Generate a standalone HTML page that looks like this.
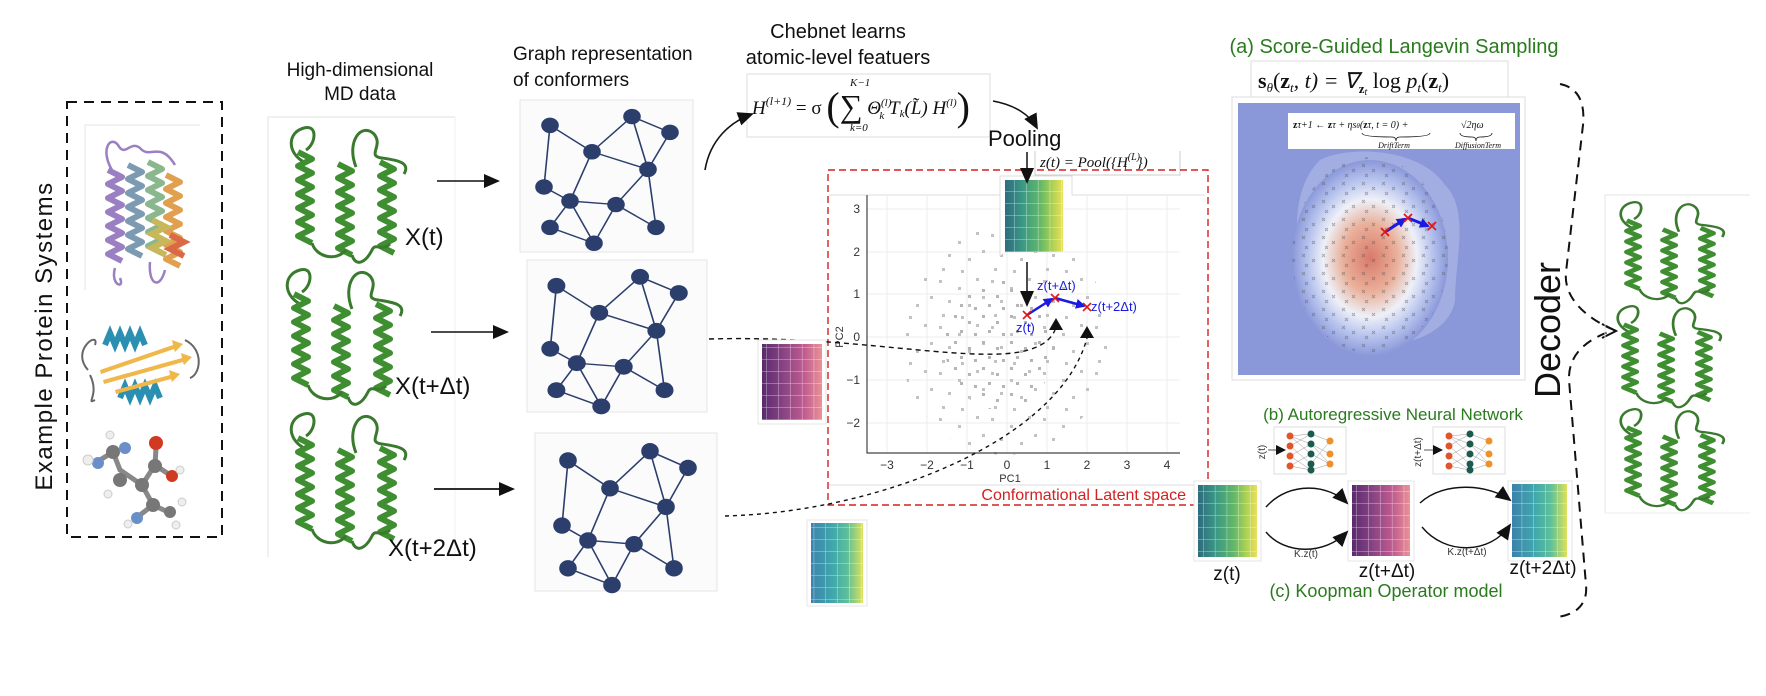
<!DOCTYPE html>
<html><head><meta charset="utf-8"><style>
html,body{margin:0;padding:0;background:#fff;}
svg{display:block;font-family:"Liberation Sans",sans-serif;}
.ser{font-family:"Liberation Serif",serif;font-style:italic;}
</style></head><body>
<svg width="1766" height="696" viewBox="0 0 1766 696" xmlns="http://www.w3.org/2000/svg">
<defs>
  <path id="hx" fill="none" stroke-width="6" stroke-linejoin="round" d="M0,0 l14,7 l-14,7 l14,7 l-14,7 l14,7 l-14,7 l14,7 l-14,7 l14,7 l-14,7 l14,7 l-14,7 l14,7"/>
  <g id="prot">
    <path d="M18,40 C0,30 2,10 18,6 C32,2 30,22 20,28 M70,45 C60,20 75,0 88,12 C98,24 80,34 96,36 C110,38 125,40 118,52" fill="none" stroke="#3a7a2e" stroke-width="3"/>
    <use href="#hx" x="12" y="30" stroke="#3f8f32"/>
    <use href="#hx" x="52" y="42" stroke="#3f8f32"/>
    <use href="#hx" x="94" y="40" stroke="#3f8f32"/>
    <path d="M26,121 C30,135 50,140 60,128 M66,133 C70,146 80,140 86,128 C90,120 95,130 104,122" fill="none" stroke="#3a7a2e" stroke-width="3"/>
  </g>
  <g id="graph" stroke="#2c3e6b" stroke-width="1.6" fill="#2c3e6b">
    <path fill="none" d="M20,22 L62,52 L102,12 L140,30 L118,72 L62,52 L40,108 L14,92 L20,22 M118,72 L86,112 L40,108 L20,138 L64,156 L86,112 L126,138 L118,72 M40,108 L64,156 M102,12 L118,72"/>
    <circle cx="20" cy="22" r="8"/><circle cx="102" cy="12" r="8"/><circle cx="62" cy="52" r="8"/><circle cx="140" cy="30" r="8"/><circle cx="118" cy="72" r="8"/><circle cx="14" cy="92" r="8"/><circle cx="40" cy="108" r="8"/><circle cx="86" cy="112" r="8"/><circle cx="126" cy="138" r="8"/><circle cx="20" cy="138" r="8"/><circle cx="64" cy="156" r="8"/>
  </g>
  <linearGradient id="gv" x1="0" x2="1"><stop offset="0" stop-color="#2e6b7e"/><stop offset=".3" stop-color="#3a9885"/><stop offset=".6" stop-color="#62b66a"/><stop offset=".8" stop-color="#a6cf55"/><stop offset="1" stop-color="#ece05a"/></linearGradient>
  <linearGradient id="gp" x1="0" x2="1"><stop offset="0" stop-color="#5a2a6e"/><stop offset=".35" stop-color="#874383"/><stop offset=".7" stop-color="#bf5b8f"/><stop offset="1" stop-color="#ea9296"/></linearGradient>
  <linearGradient id="gt" x1="0" x2="1"><stop offset="0" stop-color="#3c82ab"/><stop offset=".4" stop-color="#3fa6ad"/><stop offset=".7" stop-color="#5dbf9a"/><stop offset="1" stop-color="#dde15a"/></linearGradient>
  <pattern id="grid" width="11.8" height="12" patternUnits="userSpaceOnUse"><path d="M11.8,0 V12 M0,12 H11.8" stroke="#fff" stroke-width="1" stroke-opacity=".6" fill="none"/></pattern>
  <radialGradient id="blob" cx=".5" cy=".5" r=".5"><stop offset="0" stop-color="#d97a6a"/><stop offset=".35" stop-color="#eab09a"/><stop offset=".6" stop-color="#eef0f8"/><stop offset=".8" stop-color="#b8c4ee"/><stop offset="1" stop-color="#8a98da"/></radialGradient>
  <pattern id="dots" width="52" height="46" patternUnits="userSpaceOnUse"><g fill="#c2c2c2"><rect x="3" y="4" width="3" height="3"/><rect x="22" y="11" width="3" height="3"/><rect x="40" y="2" width="3" height="3"/><rect x="12" y="24" width="3" height="3"/><rect x="32" y="28" width="3" height="3"/><rect x="46" y="20" width="3" height="3"/><rect x="6" y="38" width="3" height="3"/><rect x="25" y="40" width="3" height="3"/></g></pattern>
  <pattern id="dotsd" width="28" height="26" patternUnits="userSpaceOnUse"><g fill="#b5b5b5"><rect x="2" y="3" width="3" height="3"/><rect x="16" y="9" width="3" height="3"/><rect x="8" y="18" width="3" height="3"/><rect x="22" y="21" width="3" height="3"/></g></pattern>
  <pattern id="crs" width="20" height="18" patternUnits="userSpaceOnUse"><g stroke="#555" stroke-width="1"><path d="M2,2 l3,3 m0,-3 l-3,3 M12,7 l3,3 m0,-3 l-3,3 M5,12 l3,3 m0,-3 l-3,3"/></g></pattern>
  <marker id="ah" markerWidth="10" markerHeight="10" refX="8" refY="5" orient="auto" markerUnits="userSpaceOnUse"><path d="M0,0 L10,5 L0,10 z" fill="#111"/></marker>
  <marker id="ahb" markerWidth="16" markerHeight="14" refX="14" refY="7" orient="auto" markerUnits="userSpaceOnUse"><path d="M0,0 L16,7 L0,14 z" fill="#111"/></marker>
  <marker id="ahblue" markerWidth="10" markerHeight="10" refX="8" refY="5" orient="auto" markerUnits="userSpaceOnUse"><path d="M0,0 L10,5 L0,10 z" fill="#1a1ae0"/></marker>
</defs>

<!-- Left panel -->
<text transform="translate(52,336) rotate(-90)" text-anchor="middle" font-size="24" letter-spacing="1.5" fill="#111">Example Protein Systems</text>
<rect x="67" y="102" width="155" height="435" fill="none" stroke="#111" stroke-width="2" stroke-dasharray="10,7"/>
<path d="M85,290 V125 H200" fill="none" stroke="#e4e4e4"/>
<use href="#hx" x="108" y="170" stroke="#9a80c2"/>
<use href="#hx" x="128" y="165" stroke="#7c9bb2"/>
<use href="#hx" x="148" y="162" stroke="#8ab78e"/>
<use href="#hx" x="166" y="175" stroke="#e0a050"/>
<path d="M112,170 C100,150 110,135 118,145 C125,158 130,140 140,148 C150,160 160,140 175,165 M115,268 C110,285 125,290 120,278 M150,262 C148,285 160,290 165,270" fill="none" stroke="#9a80c2" stroke-width="2.5"/>
<path d="M152,220 l14,7 l-14,7 l14,7 l-14,7 l14,7" fill="none" stroke="#c8b85a" stroke-width="6"/>
<path d="M170,235 l14,7 l-14,7 l14,7" fill="none" stroke="#d96a45" stroke-width="6"/>
<path d="M88,370 C70,350 100,330 95,345 M90,375 C100,395 85,405 95,400 M185,340 C205,350 200,375 190,378" fill="none" stroke="#666" stroke-width="2"/>
<path d="M105,345 l5,-12 l5,12 l5,-12 l5,12 l5,-12 l5,12 l5,-12 l5,12" fill="none" stroke="#2a8fb0" stroke-width="6"/>
<path d="M120,398 l5,-12 l5,12 l5,-12 l5,12 l5,-12 l5,12 l5,-12 l5,12" fill="none" stroke="#2a8fb0" stroke-width="6"/>
<path d="M100,370 L173,345 L172,340 L183,344 L175,352 L174,349 L101,374 z" fill="#f0b84a"/>
<path d="M103,380 L182,358 L181,353 L192,357 L184,365 L183,362 L104,384 z" fill="#f0b84a"/>
<path d="M115,390 L170,375 L169,370 L180,374 L172,382 L171,379 L116,394 z" fill="#f0b84a"/>
<path d="M100,460 L113,452 L120,470 L142,485 L155,465 L170,475 M142,485 L153,505 L168,512 M153,505 L140,515 M155,465 L156,448" stroke="#888" stroke-width="5" fill="none"/>
<circle cx="113" cy="452" r="7" fill="#777"/><circle cx="125" cy="448" r="6" fill="#6a8fc8"/><circle cx="98" cy="463" r="6" fill="#6a8fc8"/><circle cx="88" cy="460" r="5" fill="#eee" stroke="#ccc"/><circle cx="120" cy="480" r="7" fill="#777"/><circle cx="142" cy="485" r="7" fill="#777"/><circle cx="155" cy="466" r="7" fill="#777"/><circle cx="156" cy="443" r="7" fill="#d03a22"/><circle cx="172" cy="476" r="6" fill="#d03a22"/><circle cx="180" cy="470" r="4" fill="#eee" stroke="#ccc"/><circle cx="153" cy="505" r="7" fill="#777"/><circle cx="170" cy="512" r="6" fill="#777"/><circle cx="137" cy="518" r="6" fill="#6a8fc8"/><circle cx="128" cy="524" r="4" fill="#eee" stroke="#ccc"/><circle cx="108" cy="494" r="4" fill="#eee" stroke="#ccc"/><circle cx="110" cy="435" r="4" fill="#eee" stroke="#ccc"/><circle cx="176" cy="525" r="4" fill="#eee" stroke="#ccc"/><circle cx="182" cy="502" r="4" fill="#eee" stroke="#ccc"/>

<!-- MD data -->
<text x="360" y="76" text-anchor="middle" font-size="19" fill="#111">High-dimensional</text>
<text x="360" y="100" text-anchor="middle" font-size="19" fill="#111">MD data</text>
<path d="M268,557 V117 H455" fill="none" stroke="#e2e2e2"/><path d="M455,117 V557" stroke="#f0f0f0"/>
<use href="#prot" x="286" y="122"/>
<use href="#prot" x="282" y="264"/>
<use href="#prot" x="286" y="408"/>
<text x="405" y="245" font-size="24" fill="#111">X(t)</text>
<text x="395" y="394" font-size="24" fill="#111">X(t+Δt)</text>
<text x="388" y="556" font-size="24" fill="#111">X(t+2Δt)</text>
<line x1="437" y1="181" x2="498" y2="181" stroke="#111" stroke-width="1.6" marker-end="url(#ahb)"/>
<line x1="431" y1="332" x2="507" y2="332" stroke="#111" stroke-width="1.6" marker-end="url(#ahb)"/>
<line x1="434" y1="489" x2="513" y2="489" stroke="#111" stroke-width="1.8" marker-end="url(#ahb)"/>

<!-- Graphs -->
<text x="513" y="60" font-size="19" fill="#111">Graph representation</text>
<text x="513" y="86" font-size="19" fill="#111">of conformers</text>
<rect x="520" y="100" width="173" height="152" fill="#fbfbfc" stroke="#e4e4e4"/>
<g transform="translate(530,106) scale(1,0.88)"><use href="#graph"/></g>
<rect x="527" y="260" width="180" height="152" fill="#fbfbfc" stroke="#e4e4e4"/>
<g transform="translate(536,266) scale(1.02,0.9)"><use href="#graph"/></g>
<rect x="535" y="433" width="182" height="158" fill="#fbfbfc" stroke="#e4e4e4"/>
<g transform="translate(548,440) scale(1.0,0.93)"><use href="#graph"/></g>

<!-- Chebnet -->
<text x="838" y="38" text-anchor="middle" font-size="20" fill="#111">Chebnet learns</text>
<text x="838" y="64" text-anchor="middle" font-size="20" fill="#111">atomic-level featuers</text>
<rect x="747" y="74" width="243" height="63" fill="#fff" stroke="#ddd"/>
<text x="752" y="114" class="ser" font-size="19" fill="#111">H<tspan font-size="12" dy="-9">(l+1)</tspan><tspan dy="9" font-style="normal"> = σ </tspan><tspan font-size="40" font-style="normal" dy="6">(</tspan><tspan font-size="32" font-style="normal" dy="-3">∑</tspan><tspan dy="-3"> Θ</tspan><tspan font-size="11" dy="-8">(l)</tspan><tspan font-size="11" dx="-12" dy="13">k</tspan><tspan dy="-5"> T</tspan><tspan font-size="11" dy="3">k</tspan><tspan dy="-3">(L̃) H</tspan><tspan font-size="11" dy="-8">(l)</tspan><tspan font-size="40" font-style="normal" dy="14">)</tspan></text>
<text x="850" y="86" class="ser" font-size="11" fill="#111">K−1</text>
<text x="850" y="131" class="ser" font-size="11" fill="#111">k=0</text>
<path d="M705,170 C710,140 730,122 752,114" fill="none" stroke="#111" stroke-width="1.6" marker-end="url(#ahb)"/>
<path d="M993,101 C1015,105 1030,115 1037,128" fill="none" stroke="#111" stroke-width="1.6" marker-end="url(#ahb)"/>
<text x="988" y="146" font-size="22" fill="#111">Pooling</text>
<path d="M1035,151 V175 H1180 V151" fill="#fff" stroke="#ccc"/>
<text x="1040" y="167" class="ser" font-size="15" fill="#111">z(t) = Pool({H<tspan font-size="10" dy="-7">(L)</tspan><tspan font-size="10" dx="-16" dy="11">i</tspan><tspan dx="10" dy="-4">})</tspan></text>

<!-- Latent space -->
<rect x="828" y="170" width="380" height="335" fill="none" stroke="#d42020" stroke-width="1.4" stroke-dasharray="7,4"/>
<path d="M829,195 H1205 M829,485 H1205" stroke="#ddd"/>
<g stroke="#ececec" stroke-width="1">
  <path d="M887,195 V453 M927,195 V453 M967,195 V453 M1007,195 V453 M1047,195 V453 M1087,195 V453 M1127,195 V453 M1167,195 V453"/>
  <path d="M867,209 H1180 M867,252 H1180 M867,294 H1180 M867,337 H1180 M867,380 H1180 M867,423 H1180"/>
</g>
<clipPath id="sc"><ellipse cx="1005" cy="340" rx="105" ry="115"/></clipPath>
<rect x="880" y="200" width="260" height="260" fill="url(#dots)" clip-path="url(#sc)"/>
<clipPath id="sc2"><ellipse cx="1000" cy="345" rx="55" ry="65"/></clipPath>
<rect x="930" y="270" width="150" height="150" fill="url(#dotsd)" clip-path="url(#sc2)"/>
<path d="M867,195 V453 H1180" fill="none" stroke="#444" stroke-width="1.2"/>
<g font-size="12" fill="#333" text-anchor="end">
  <text x="860" y="213">3</text><text x="860" y="256">2</text><text x="860" y="298">1</text><text x="860" y="341">0</text><text x="860" y="384">−1</text><text x="860" y="427">−2</text>
</g>
<g font-size="12" fill="#333" text-anchor="middle">
  <text x="887" y="469">−3</text><text x="927" y="469">−2</text><text x="967" y="469">−1</text><text x="1007" y="469">0</text><text x="1047" y="469">1</text><text x="1087" y="469">2</text><text x="1127" y="469">3</text><text x="1167" y="469">4</text>
</g>
<text x="1010" y="482" font-size="11" fill="#333" text-anchor="middle">PC1</text>
<text transform="translate(843,337) rotate(-90)" font-size="11" fill="#333" text-anchor="middle">PC2</text>
<path d="M1000,256 V176 H1072 V195" fill="#fff" stroke="#ddd"/>
<rect x="1005" y="180" width="58" height="72" fill="url(#gv)"/><rect x="1005" y="180" width="58" height="72" fill="url(#grid)"/>
<line x1="1027" y1="152" x2="1027" y2="182" stroke="#111" stroke-width="1.5" marker-end="url(#ahb)"/>
<line x1="1027" y1="262" x2="1027" y2="305" stroke="#111" stroke-width="1.5" marker-end="url(#ahb)"/>
<path d="M1027,315 L1052,299" stroke="#1a1ae0" stroke-width="2.5" marker-end="url(#ahblue)"/>
<path d="M1055,298 L1084,306" stroke="#1a1ae0" stroke-width="2.5" marker-end="url(#ahblue)"/>
<g stroke="#e01818" stroke-width="1.6"><path d="M1023,311 l8,8 m0,-8 l-8,8 M1051,294 l8,8 m0,-8 l-8,8 M1083,303 l8,8 m0,-8 l-8,8"/></g>
<g font-size="13" fill="#1a1ae0"><text x="1016" y="332">z(t)</text><text x="1037" y="290">z(t+Δt)</text><text x="1091" y="311">z(t+2Δt)</text></g>
<path d="M1049,330 L1056,318 L1063,330 z M1080,338 L1087,326 L1094,338 z" fill="#111"/>
<path d="M709,339 C850,335 960,362 1020,352 C1045,347 1052,337 1055,330" fill="none" stroke="#111" stroke-width="1.4" stroke-dasharray="5,4"/>
<path d="M725,516 C880,512 1060,440 1087,338" fill="none" stroke="#111" stroke-width="1.4" stroke-dasharray="4,4"/>
<text x="1186" y="500" text-anchor="end" font-size="16" fill="#d42020">Conformational Latent space</text>
<rect x="758" y="340" width="68" height="84" fill="#fff" stroke="#e4e4e4"/>
<rect x="762" y="344" width="60" height="76" fill="url(#gp)"/><rect x="762" y="344" width="60" height="76" fill="url(#grid)"/>
<rect x="807" y="520" width="60" height="86" fill="#fff" stroke="#e4e4e4"/>
<rect x="811" y="523" width="52" height="80" fill="url(#gt)"/><rect x="811" y="523" width="52" height="80" fill="url(#grid)"/>

<!-- (a) Langevin -->
<text x="1394" y="53" text-anchor="middle" font-size="20" fill="#2a7a1e">(a) Score-Guided Langevin Sampling</text>
<path d="M1251,97 V61 H1508 V97" fill="#fff" stroke="#ddd"/>
<text x="1258" y="88" class="ser" font-size="22" fill="#111"><tspan font-style="normal" font-weight="bold">s</tspan><tspan font-size="13" dy="4">θ</tspan><tspan dy="-4" font-style="normal">(</tspan><tspan font-style="normal" font-weight="bold">z</tspan><tspan font-size="13" dy="4">t</tspan><tspan dy="-4">, t) = ∇</tspan><tspan font-size="13" dy="5" font-weight="bold" font-style="normal">z</tspan><tspan font-size="10" dy="2">t</tspan><tspan dy="-7" font-style="normal"> log </tspan>p<tspan font-size="13" dy="4">t</tspan><tspan dy="-4" font-style="normal">(</tspan><tspan font-style="normal" font-weight="bold">z</tspan><tspan font-size="13" dy="4">t</tspan><tspan dy="-4" font-style="normal">)</tspan></text>
<rect x="1232" y="97" width="293" height="283" fill="#fff" stroke="#ddd"/>
<rect x="1238" y="103" width="282" height="272" fill="#8a98da"/>
<path d="M1320,160 C1350,145 1420,148 1445,185 C1470,210 1455,260 1455,300 C1450,335 1400,350 1360,345 C1320,340 1300,320 1300,280 C1296,240 1290,190 1320,160 z" fill="#a2aee2"/>
<ellipse cx="1370" cy="258" rx="78" ry="98" fill="url(#blob)"/>
<clipPath id="lc"><ellipse cx="1370" cy="255" rx="78" ry="98"/></clipPath>
<rect x="1280" y="150" width="180" height="210" fill="url(#crs)" clip-path="url(#lc)" opacity=".45"/>
<rect x="1288" y="113" width="227" height="36" fill="#fff"/>
<text x="1293" y="128" class="ser" font-size="10" fill="#111"><tspan font-weight="bold" font-style="normal">z</tspan>τ+1 ← <tspan font-weight="bold" font-style="normal">z</tspan>τ + ηs<tspan font-size="7">θ</tspan>(<tspan font-weight="bold" font-style="normal">z</tspan>τ, t = 0) +</text>
<text x="1461" y="128" class="ser" font-size="10" fill="#111">√2ηω</text>
<path d="M1362,133 q0,4 30,4 q4,0 4,4 q0,-4 4,-4 q30,0 30,-4 M1460,133 q0,4 12,4 q4,0 4,4 q0,-4 4,-4 q12,0 12,-4" fill="none" stroke="#111" stroke-width=".8"/>
<text x="1394" y="148" class="ser" font-size="8" fill="#111" text-anchor="middle">DriftTerm</text>
<text x="1478" y="148" class="ser" font-size="8" fill="#111" text-anchor="middle">DiffusionTerm</text>
<path d="M1385,232 L1405,219" stroke="#1a1ae0" stroke-width="3" marker-end="url(#ahblue)"/>
<path d="M1408,218 L1428,226" stroke="#1a1ae0" stroke-width="3" marker-end="url(#ahblue)"/>
<g stroke="#e01818" stroke-width="1.8"><path d="M1381,228 l8,8 m0,-8 l-8,8 M1404,214 l8,8 m0,-8 l-8,8 M1428,222 l8,8 m0,-8 l-8,8"/></g>

<!-- Decoder brace -->
<text transform="translate(1560,330) rotate(-90)" text-anchor="middle" font-size="36" fill="#111">Decoder</text>
<path d="M1560,84 C1580,88 1585,105 1583,125 L1566,272 C1563,300 1590,320 1614,330 C1590,338 1568,352 1569,380 L1586,585 C1588,605 1575,615 1557,617" fill="none" stroke="#111" stroke-width="2" stroke-dasharray="10,7"/>
<path d="M1602,324 L1616,331 L1602,338" fill="none" stroke="#111" stroke-width="2"/>
<path d="M1605,513 V195 H1750" fill="none" stroke="#e4e4e4"/><path d="M1605,513 H1750" stroke="#eee"/>
<g transform="translate(1616,198) scale(0.9,0.75)"><use href="#prot"/></g>
<g transform="translate(1613,302) scale(0.9,0.75)"><use href="#prot"/></g>
<g transform="translate(1616,405) scale(0.9,0.75)"><use href="#prot"/></g>

<!-- (b) NN -->
<text x="1393" y="420" text-anchor="middle" font-size="17" fill="#2a7a1e">(b) Autoregressive Neural Network</text>
<g id="nn" transform="translate(0,4)">
<rect x="1274" y="423" width="72" height="47" fill="#fff" stroke="#ddd"/>
<g stroke="#999" stroke-width=".5"><path d="M1290,432 L1311,430 M1290,432 L1311,440 M1290,432 L1311,450 M1290,442 L1311,430 M1290,442 L1311,460 M1290,452 L1311,440 M1290,452 L1311,466 M1290,462 L1311,450 M1290,462 L1311,466 M1311,430 L1330,437 M1311,440 L1330,450 M1311,450 L1330,460 M1311,460 L1330,437 M1311,466 L1330,460 M1311,440 L1330,460"/></g>
<g fill="#e0552a"><circle cx="1290" cy="432" r="3.5"/><circle cx="1290" cy="442" r="3.5"/><circle cx="1290" cy="452" r="3.5"/><circle cx="1290" cy="462" r="3.5"/></g>
<g fill="#1d5a4e"><circle cx="1311" cy="430" r="3.5"/><circle cx="1311" cy="440" r="3.5"/><circle cx="1311" cy="450" r="3.5"/><circle cx="1311" cy="460" r="3.5"/><circle cx="1311" cy="466" r="3.5"/></g>
<g fill="#f0902a"><circle cx="1330" cy="437" r="3.5"/><circle cx="1330" cy="450" r="3.5"/><circle cx="1330" cy="460" r="3.5"/></g>
</g>
<line x1="1268" y1="450" x2="1284" y2="450" stroke="#555" stroke-width="1" marker-end="url(#ah)"/>
<text transform="translate(1265,452) rotate(-90)" text-anchor="middle" font-size="10" fill="#333">z(t)</text>
<g transform="translate(159,0)"><use href="#nn"/></g>
<line x1="1424" y1="450" x2="1441" y2="450" stroke="#555" stroke-width="1" marker-end="url(#ah)"/>
<text transform="translate(1421,452) rotate(-90)" text-anchor="middle" font-size="10" fill="#333">z(t+Δt)</text>

<!-- (c) Koopman -->
<rect x="1194" y="481" width="67" height="80" fill="#fff" stroke="#e4e4e4"/>
<rect x="1198" y="485" width="59" height="72" fill="url(#gv)"/><rect x="1198" y="485" width="59" height="72" fill="url(#grid)"/>
<rect x="1348" y="481" width="66" height="80" fill="#fff" stroke="#e4e4e4"/>
<rect x="1352" y="485" width="58" height="71" fill="url(#gp)"/><rect x="1352" y="485" width="58" height="71" fill="url(#grid)"/>
<rect x="1508" y="481" width="64" height="80" fill="#fff" stroke="#e4e4e4"/>
<rect x="1512" y="484" width="55" height="73" fill="url(#gt)"/><rect x="1512" y="484" width="55" height="73" fill="url(#grid)"/>
<path d="M1266,507 C1290,480 1330,485 1347,503" fill="none" stroke="#111" stroke-width="1.4" marker-end="url(#ahb)"/>
<path d="M1266,532 C1285,555 1325,555 1347,532" fill="none" stroke="#111" stroke-width="1.4" marker-end="url(#ahb)"/>
<path d="M1420,503 C1445,480 1490,485 1510,500" fill="none" stroke="#111" stroke-width="1.4" marker-end="url(#ahb)"/>
<path d="M1422,527 C1445,555 1490,555 1510,525" fill="none" stroke="#111" stroke-width="1.4" marker-end="url(#ahb)"/>
<text x="1306" y="557" text-anchor="middle" font-size="10" fill="#333">K.z(t)</text>
<text x="1467" y="555" text-anchor="middle" font-size="10" fill="#333">K.z(t+Δt)</text>
<g font-size="19" fill="#111" text-anchor="middle"><text x="1227" y="580">z(t)</text><text x="1387" y="577">z(t+Δt)</text><text x="1543" y="574">z(t+2Δt)</text></g>
<text x="1386" y="597" text-anchor="middle" font-size="18" fill="#2a7a1e">(c) Koopman Operator model</text>
</svg>
</body></html>
